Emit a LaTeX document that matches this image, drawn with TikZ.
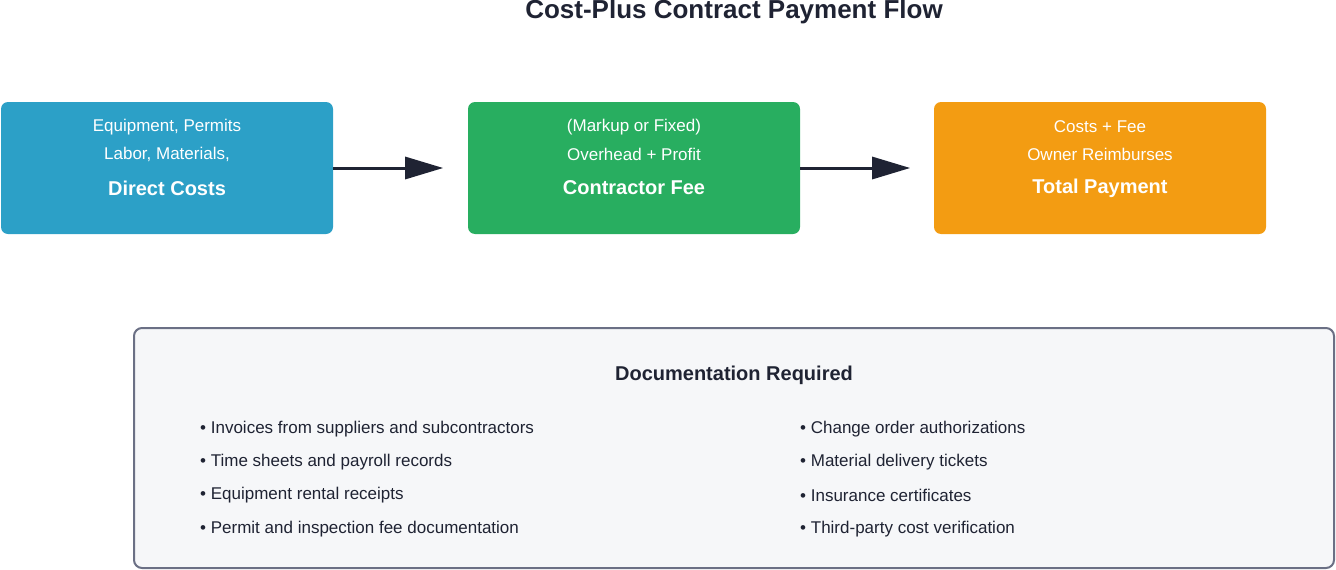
\documentclass[tikz,border=0pt]{standalone}
\usepackage{fontspec}
\setmainfont{Liberation Sans}
\usetikzlibrary{arrows.meta}
\definecolor{cblue}{HTML}{2CA0C7}
\definecolor{cgreen}{HTML}{28AE60}
\definecolor{corange}{HTML}{F39C12}
\definecolor{dark}{HTML}{1F2333}
\definecolor{docfill}{HTML}{F6F7F9}
\definecolor{docline}{HTML}{6B7085}
\begin{document}
\begin{tikzpicture}[x=1pt,y=-1pt,
  box/.style={rounded corners=7pt,minimum width=332pt,minimum height=132pt,text=white,align=center,inner sep=0pt},
  arr/.style={line width=3pt,draw=dark,-{Triangle[length=38pt,width=22pt]}},
  item/.style={anchor=west,font=\fontsize{17}{20}\selectfont,text=dark,inner sep=0pt}]
\useasboundingbox (0,0) rectangle (1336,570);
\node[font=\bfseries\fontsize{26}{30}\selectfont,text=dark] (title) at (734,12) {Cost-Plus Contract Payment Flow};
\node[box,fill=cblue] (a) at (167,168) {};
\node[box,fill=cgreen] (b) at (634,168) {};
\node[box,fill=corange] (c) at (1100,168) {};
\foreach \n/\t/\l/\m in {a/Direct Costs/{Labor, Materials,}/{Equipment, Permits},b/Contractor Fee/{Overhead + Profit}/{(Markup or Fixed)},c/Total Payment/{Owner Reimburses}/{Costs + Fee}}{
  \node[text=white,font=\bfseries\fontsize{20}{24}\selectfont] (\n t) at ([yshift=-20pt]\n.center) {\t};
  \node[text=white,font=\fontsize{17}{20}\selectfont] (\n 1) at ([yshift=14pt]\n.center) {\l};
  \node[text=white,font=\fontsize{17}{20}\selectfont] (\n 2) at ([yshift=41pt]\n.center) {\m};
}
\draw[arr] (a.east) -- ([xshift=110pt]a.east);
\draw[arr] (b.east) -- ([xshift=110pt]b.east);
\node[draw=docline,line width=2pt,fill=docfill,rounded corners=8pt,minimum width=1200pt,minimum height=240pt] (doc) at (734,448) {};
\node[font=\bfseries\fontsize{20}{24}\selectfont,text=dark] (dt) at (734,375) {Documentation Required};
\node[item] (i1) at (200,429) {• Invoices from suppliers and subcontractors};
\node[item] (i2) at (200,462) {• Time sheets and payroll records};
\node[item] (i3) at (200,495) {• Equipment rental receipts};
\node[item] (i4) at (200,529) {• Permit and inspection fee documentation};
\node[item] (j1) at (800,429) {• Change order authorizations};
\node[item] (j2) at (800,462) {• Material delivery tickets};
\node[item] (j3) at (800,495) {• Insurance certificates};
\node[item] (j4) at (800,529) {• Third-party cost verification};
\end{tikzpicture}
\end{document}
